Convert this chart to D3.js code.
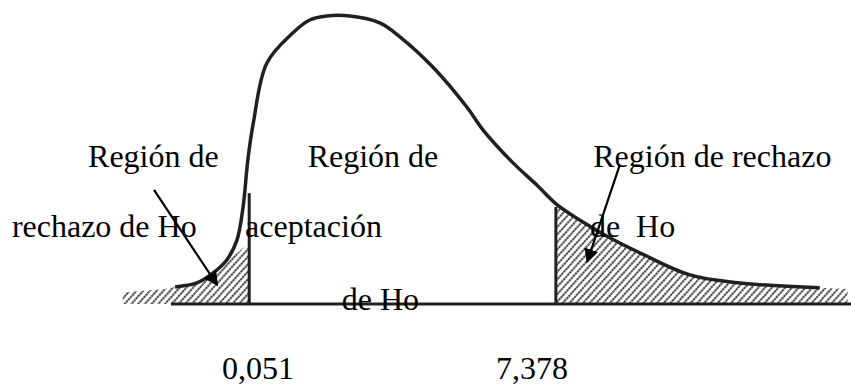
<!DOCTYPE html>
<html>
<head>
<meta charset="utf-8">
<script src="https://cdn.jsdelivr.net/npm/d3@7"></script>
<style>
  html, body { margin: 0; padding: 0; background: #fff; }
  svg text { font-family: "Liberation Serif", "Times New Roman", serif; font-size: 32px; fill: #000; }
</style>
</head>
<body>
<svg id="chart" width="851" height="385"></svg>
<script>
// curve of the density (x in drawing units, y relative height)
var curveX = [0.06, 0.38, 0.62, 0.82, 0.97, 1.06, 1.13, 1.21, 1.41, 1.79, 2.04, 2.29, 2.63, 3.07, 3.37, 3.85, 4.35, 4.59, 5.03, 5.38, 5.68, 6.01, 6.46, 6.90, 7.63, 8.37, 9.54];
var curveY = [0.059, 0.073, 0.108, 0.153, 0.222, 0.337, 0.50, 0.628, 0.837, 0.941, 0.986, 1.0, 1.0, 0.976, 0.927, 0.823, 0.684, 0.604, 0.49, 0.413, 0.344, 0.292, 0.229, 0.177, 0.101, 0.073, 0.056];

// critical values: where the lines stand, their height and the tick labels
var critX = [1.15, 5.66];
var critTop = [0.385, 0.337];
var critLabels = ["0,051", "7,378"];
var critLabelX = [1.28, 5.31];

// region labels
var labelText = ["Región de", "rechazo de Ho", "Región de", "aceptación", "Región de rechazo", "de  Ho", "de Ho"];
var labelX = [-1.22, -2.34, 2.01, 1.09, 6.21, 6.16, 2.51];
var labelY = [0.476, 0.233, 0.476, 0.233, 0.476, 0.233, -0.021];

// arrows [fromX, fromY, toX, toY]
var arrows = [[-0.25, 0.396, 0.68, 0.066], [6.60, 0.483, 6.12, 0.146]];

var svg = d3.select("#chart");
var x = d3.scaleLinear().domain([0, 10]).range([171, 851]);
var y = d3.scaleLinear().domain([0, 1]).range([304, 16]);

var pts = curveX.map(function(d, i) { return [d, curveY[i]]; });

var defs = svg.append("defs");
var pat = defs.append("pattern")
  .attr("id", "hatch")
  .attr("patternUnits", "userSpaceOnUse")
  .attr("width", 5).attr("height", 6)
  .attr("patternTransform", "rotate(42)");
pat.append("line")
  .attr("x1", 1).attr("y1", 0).attr("x2", 1).attr("y2", 6)
  .attr("stroke", "#3a3a3a").attr("stroke-width", 1.8)
  .attr("stroke-dasharray", "2.4,0.6");

defs.append("marker")
  .attr("id", "head")
  .attr("viewBox", "0 0 10 10")
  .attr("refX", 9).attr("refY", 5)
  .attr("markerWidth", 6.5).attr("markerHeight", 6.5)
  .attr("markerUnits", "strokeWidth")
  .attr("orient", "auto")
  .append("path").attr("d", "M0,0L10,5L0,10Z").attr("fill", "#000");

var line = d3.line()
  .x(function(d) { return x(d[0]); })
  .y(function(d) { return y(d[1]); })
  .curve(d3.curveCatmullRom);

var poly = d3.line()
  .x(function(d) { return x(d[0]); })
  .y(function(d) { return y(d[1]); });

// left rejection area: tail band, under the curve, then straight up to the line
var leftArea = [[-0.71, 0.01], [-0.71, 0.04], [-0.1, 0.052]]
  .concat(pts.filter(function(d) { return d[0] <= 0.62; }))
  .concat([[critX[0], 0.212], [critX[0], 0], [-0.71, 0]]);
svg.append("path")
  .attr("d", poly(leftArea) + "Z")
  .attr("fill", "url(#hatch)");

// right rejection area under the curve
var rightArea = pts.filter(function(d) { return d[0] >= critX[1]; })
  .concat([[9.95, 0.052], [9.95, 0], [critX[1], 0]]);
svg.append("path")
  .attr("d", poly(rightArea) + "Z")
  .attr("fill", "url(#hatch)");

// baseline
svg.append("line")
  .attr("x1", x(0)).attr("x2", x(10))
  .attr("y1", y(0)).attr("y2", y(0))
  .attr("stroke", "#231f20").attr("stroke-width", 3);

// critical lines
svg.selectAll(".crit").data(critX).enter().append("line")
  .attr("class", "crit")
  .attr("x1", function(d) { return x(d); }).attr("x2", function(d) { return x(d); })
  .attr("y1", y(0)).attr("y2", function(d, i) { return y(critTop[i]); })
  .attr("stroke", "#231f20").attr("stroke-width", 3);

// the curve
svg.append("path")
  .datum(pts)
  .attr("d", line)
  .attr("fill", "none")
  .attr("stroke", "#231f20")
  .attr("stroke-width", 3.5);

// labels
svg.selectAll(".lab").data(labelText).enter().append("text")
  .attr("class", "lab")
  .attr("x", function(d, i) { return x(labelX[i]); })
  .attr("y", function(d, i) { return y(labelY[i]); })
  .style("white-space", "pre")
  .text(function(d) { return d; });

svg.selectAll(".tick").data(critLabels).enter().append("text")
  .attr("class", "tick")
  .attr("x", function(d, i) { return x(critLabelX[i]); })
  .attr("y", y(-0.26))
  .attr("text-anchor", "middle")
  .text(function(d) { return d; });

// arrows
svg.selectAll(".arrow").data(arrows).enter().append("line")
  .attr("class", "arrow")
  .attr("x1", function(d) { return x(d[0]); }).attr("y1", function(d) { return y(d[1]); })
  .attr("x2", function(d) { return x(d[2]); }).attr("y2", function(d) { return y(d[3]); })
  .attr("stroke", "#000").attr("stroke-width", 2.2)
  .attr("marker-end", "url(#head)");
</script>
</body>
</html>
